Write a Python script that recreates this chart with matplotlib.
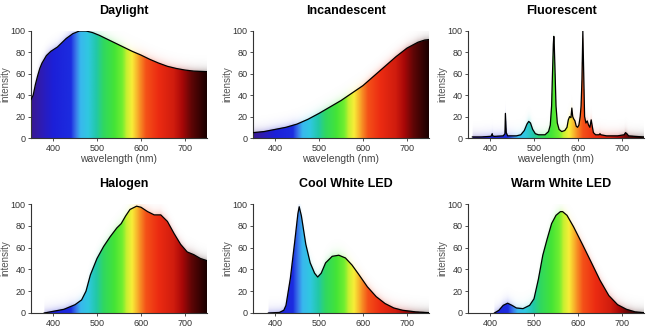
import numpy as np
import matplotlib.pyplot as plt
from matplotlib.colors import LinearSegmentedColormap

plt.rcParams['font.family'] = ['Liberation Sans', 'DejaVu Sans']

# ---- data (wavelength nm, relative intensity) ----
daylight_wl = [350, 355, 360, 365, 370, 375, 385, 395, 410, 430, 445, 460, 475, 490,
               505, 520, 540, 560, 580, 600, 620, 640, 660, 680, 700, 720, 750]
daylight_val = [36, 40, 50, 58, 65, 70, 77, 81, 85, 93, 97.5, 100, 100, 98.5,
                96, 93, 89, 85, 81, 77.5, 73.5, 70, 67, 65, 63.5, 62.5, 62]

incand_wl = [350, 375, 400, 425, 450, 475, 500, 525, 550, 575, 600, 625, 650, 675,
             700, 725, 740, 750]
incand_val = [5, 6, 8, 10, 13, 17.5, 23, 29, 35, 42, 49, 58, 67, 76, 84, 89.5, 91.5, 92]

fluor_wl = [360, 380, 400, 404, 405, 406, 410, 430, 434, 435, 437, 440, 460, 470, 478,
            484, 488, 492, 497, 503, 510, 525, 533, 537, 540, 542, 544, 545, 546, 548,
            550, 553, 557, 563, 570, 575, 578, 581, 584, 586, 588, 590, 593, 596, 599,
            602, 605, 607, 609, 611, 613, 615, 618, 621, 624, 627, 630, 632, 635, 640,
            648, 650, 652, 665, 690, 705, 708, 711, 715, 730, 750]
fluor_val = [1, 1, 1.5, 2, 4, 2, 1.5, 2, 4, 23, 5, 2, 2, 3, 7,
             13, 15.5, 14, 8, 4, 3, 3, 6, 12, 30, 60, 88, 95, 88, 60,
             30, 14, 8, 6, 7, 10, 17, 20, 19, 28, 20, 18, 16, 11, 10,
             12, 20, 30, 55, 100, 60, 20, 14, 16, 12, 10, 17, 12, 5, 3,
             3, 4, 3, 2, 2, 3, 5, 4, 2, 1.5, 1]

halogen_wl = [380, 400, 425, 450, 465, 475, 485, 500, 515, 530, 545, 555, 565, 575,
              590, 600, 615, 630, 645, 660, 675, 690, 705, 720, 735, 750]
halogen_val = [0, 1.5, 3.4, 7.6, 12, 20, 35, 50, 61, 70, 78, 82, 89, 95,
               98, 97, 93, 90, 90, 84, 73, 63, 56, 53.5, 50, 48]

cool_wl = [385, 410, 420, 425, 435, 445, 452, 455, 460, 470, 480, 490, 497, 505,
           515, 530, 545, 560, 575, 590, 610, 630, 650, 670, 690, 720, 750]
cool_val = [0, 0.5, 2.5, 7, 32, 66, 91, 97.5, 89, 63, 46, 36.5, 33, 36.5,
            46, 52, 53, 50.5, 44, 35.6, 24, 15, 8.7, 4.6, 2.5, 1, 0.3]

warm_wl = [410, 420, 430, 440, 450, 460, 475, 490, 500, 510, 520, 530, 540, 550,
           560, 565, 575, 590, 610, 630, 650, 670, 690, 710, 730, 750]
warm_val = [0, 2.4, 7, 9, 7, 4.6, 4, 7, 13, 31, 53, 68, 82, 89.6,
            93, 93, 89.6, 79, 63, 46.6, 30, 16, 7.6, 3.4, 1, 0.3]

titles = ['Daylight', 'Incandescent', 'Fluorescent',
          'Halogen', 'Cool White LED', 'Warm White LED']
series = [(daylight_wl, daylight_val), (incand_wl, incand_val), (fluor_wl, fluor_val),
          (halogen_wl, halogen_val), (cool_wl, cool_val), (warm_wl, warm_val)]

# visible spectrum colours
anchors = [(350, '#3a1890'), (375, '#2c1cb8'), (400, '#1c20d8'), (440, '#1c2ce0'),
           (452, '#3a78ea'), (462, '#38b8ee'), (480, '#30c8e0'), (498, '#22c8a8'),
           (515, '#30d860'), (540, '#44e436'), (557, '#70ee30'), (568, '#c8f030'),
           (580, '#f8ee38'), (595, '#f8a028'), (612, '#f45018'), (640, '#ec2c12'),
           (675, '#d01c0e'), (695, '#a80808'), (715, '#600606'), (750, '#1a0000')]
spec = LinearSegmentedColormap.from_list('spec', [((w - 350) / 400, c) for w, c in anchors])

W, H = 666, 336
fig = plt.figure(figsize=(6.66, 3.36), dpi=100)

col_left = [31, 253, 468]
col_w = 176
row_top = [31, 204]
row_h = [107, 109]

xs = np.linspace(350, 750, 500)
ys = np.linspace(0, 110, 400)
rgb = spec((xs - 350) / 400)[:, :3]

for i, (title, (wl, val)) in enumerate(zip(titles, series)):
    r, c = divmod(i, 3)
    ax = fig.add_axes([col_left[c] / W, 1 - (row_top[r] + row_h[r]) / H,
                       col_w / W, row_h[r] / H])
    curve = np.interp(xs, wl, val, left=np.nan, right=np.nan)
    d = ys[:, None] - curve[None, :]
    alpha = np.where(d <= 0, 1.0, 0.3 * np.exp(-np.clip(d, 0, None) / 3.5))
    alpha = np.where(np.isnan(d), 0.0, alpha)
    img = np.zeros((len(ys), len(xs), 4))
    img[..., :3] = rgb[None, :, :]
    img[..., 3] = alpha
    ax.imshow(img, extent=[350, 750, 0, 110], origin='lower', aspect='auto',
              interpolation='bilinear', zorder=1)
    ax.plot(wl, val, color='black', lw=0.9, zorder=3)

    ax.set_xlim(350, 750)
    ax.set_ylim(0, 100)
    ax.set_xticks([400, 500, 600, 700])
    ax.set_yticks([0, 20, 40, 60, 80, 100])
    for s in ['top', 'right']:
        ax.spines[s].set_visible(False)
    for s in ['left', 'bottom']:
        ax.spines[s].set_color('#333333')
        ax.spines[s].set_linewidth(0.8)
    ax.tick_params(labelsize=6.5, colors='#333333', length=2, width=0.6, pad=2)
    ax.set_ylabel('intensity', fontsize=7, color='#555555', labelpad=0)
    if r == 0:
        ax.set_xlabel('wavelength (nm)', fontsize=7.5, color='#444444', labelpad=1)
    ax.set_title(title, fontsize=9, fontweight='bold', pad=12, x=0.53)
    ax.patch.set_alpha(0)

fig.savefig('out.png', dpi=100)
